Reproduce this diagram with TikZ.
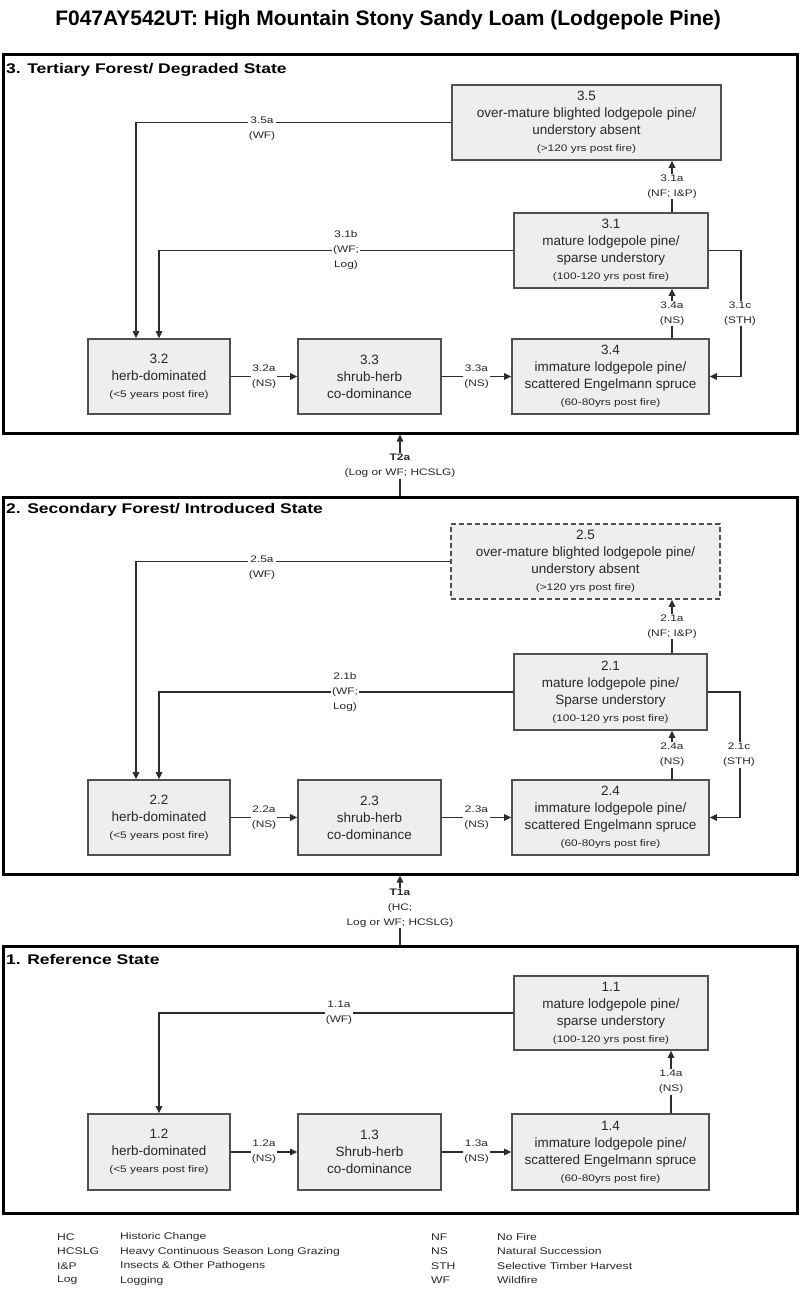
\documentclass[tikz,border=0pt]{standalone}
\usepackage{fontspec}
\setmainfont{Liberation Sans}
\newfontfamily\sfx[FakeStretch=1.25]{Liberation Sans}
\usetikzlibrary{arrows.meta,calc}
\definecolor{boxfill}{RGB}{238,238,238}
\definecolor{boxline}{RGB}{80,80,80}
\definecolor{txt}{RGB}{40,40,40}
\definecolor{conncol}{RGB}{45,45,45}
\tikzset{
 statebox/.style={draw=boxline, fill=boxfill, line width=1.6pt, align=center, text=txt, font=\fontsize{13.5}{17}\selectfont, inner sep=0pt},
 frame/.style={draw=black, line width=3pt, inner sep=0pt},
 conn/.style={draw=conncol, line width=1.4pt, -{Triangle[length=7pt,width=6.5pt]}},
 lbl/.style={fill=white, inner sep=1pt, align=center, text=txt, font=\sfx\fontsize{9.5}{15}\selectfont},
 framelabel/.style={anchor=west, inner sep=0pt, font=\sfx\bfseries\fontsize{14}{16}\selectfont},
 legend/.style={anchor=west, inner sep=0pt, font=\sfx\fontsize{9.7}{12}\selectfont, text=txt},
}
\newcommand\yrs[1]{{\sfx\fontsize{9.5}{11}\selectfont #1}}
\begin{document}
\begin{tikzpicture}[x=1pt,y=-1pt]
\fill[white] (0,0) rectangle (800,1290);
\useasboundingbox (0,0) rectangle (800,1290);

\node[font=\bfseries\fontsize{21}{24}\selectfont] (title) at (388,20) {F047AY542UT: High Mountain Stony Sandy Loam (Lodgepole Pine)};

% ---------- frames ----------
\node[frame, minimum width=794pt, minimum height=378pt] (st3) at (400,244) {};
\node[frame, minimum width=794pt, minimum height=377pt] (st2) at (400,685.5) {};
\node[frame, minimum width=794pt, minimum height=267pt] (st1) at (400,1079.5) {};
\node[framelabel] (st3l) at (6,70) {3. Tertiary Forest/ Degraded State};
\node[framelabel] (st2l) at (6,510) {2. Secondary Forest/ Introduced State};
\node[framelabel] (st1l) at (6,959) {1. Reference State};

% ---------- state 3 ----------
\node[statebox, minimum width=269pt, minimum height=75pt] (s35) at (586.5,122.5) {3.5\\over-mature blighted lodgepole pine/\\understory absent\\\yrs{(>120 yrs post fire)}};
\node[statebox, minimum width=194pt, minimum height=75pt] (s31) at (611,250.5) {3.1\\mature lodgepole pine/\\sparse understory\\\yrs{(100-120 yrs post fire)}};
\node[statebox, minimum width=142pt, minimum height=75pt] (s32) at (159,376.5) {3.2\\herb-dominated\\\yrs{(<5 years post fire)}};
\node[statebox, minimum width=143pt, minimum height=75pt] (s33) at (369.5,376.5) {3.3\\shrub-herb\\co-dominance};
\node[statebox, minimum width=197pt, minimum height=75pt] (s34) at (610.5,376.5) {3.4\\immature lodgepole pine/\\scattered Engelmann spruce\\\yrs{(60-80yrs post fire)}};

\draw[conn] (s35.west) -| ([xshift=-23pt]s32.north);
\draw[conn] (s31.west) -| (s32.north);
\draw[conn] ([xshift=61pt]s31.north) -- ([xshift=61pt]s31.north |- s35.south);
\draw[conn] ([xshift=61.5pt]s34.north) -- ([xshift=61.5pt]s34.north |- s31.south);
\draw[conn] (s31.east) -- ++(32,0) |- (s34.east);
\draw[conn] (s32.east) -- (s33.west);
\draw[conn] (s33.east) -- (s34.west);

\node[lbl] (l35a) at (262,129) {3.5a\\(WF)};
\node[lbl] (l31b) at (346,250.5) {3.1b\\(WF;\\Log)};
\node[lbl] (l31a) at (672,186.5) {3.1a\\(NF; I\&P)};
\node[lbl] (l34a) at (672,313.5) {3.4a\\(NS)};
\node[lbl] (l31c) at (740,313.5) {3.1c\\(STH)};
\node[lbl] (l32a) at (264,377) {3.2a\\(NS)};
\node[lbl] (l33a) at (476.5,377) {3.3a\\(NS)};

% ---------- T2a ----------
\draw[conn] (st2.north) -- (st3.south);
\node[lbl] (lt2a) at (400,466) {\textbf{T2a}\\(Log or WF; HCSLG)};

% ---------- state 2 ----------
\node[statebox, minimum width=269pt, minimum height=75pt, dashed, dash pattern=on 5pt off 3pt] (s25) at (585.5,561.5) {2.5\\over-mature blighted lodgepole pine/\\understory absent\\\yrs{(>120 yrs post fire)}};
\node[statebox, minimum width=193pt, minimum height=76pt] (s21) at (610.5,692) {2.1\\mature lodgepole pine/\\Sparse understory\\\yrs{(100-120 yrs post fire)}};
\node[statebox, minimum width=142pt, minimum height=75pt] (s22) at (159,817.5) {2.2\\herb-dominated\\\yrs{(<5 years post fire)}};
\node[statebox, minimum width=143pt, minimum height=75pt] (s23) at (369.5,817.5) {2.3\\shrub-herb\\co-dominance};
\node[statebox, minimum width=197pt, minimum height=75pt] (s24) at (610.5,817.5) {2.4\\immature lodgepole pine/\\scattered Engelmann spruce\\\yrs{(60-80yrs post fire)}};

\draw[conn] (s25.west) -| ([xshift=-23pt]s22.north);
\draw[conn] (s21.west) -| (s22.north);
\draw[conn] ([xshift=61.5pt]s21.north) -- ([xshift=61.5pt]s21.north |- s25.south);
\draw[conn] ([xshift=61.5pt]s24.north) -- ([xshift=61.5pt]s24.north |- s21.south);
\draw[conn] (s21.east) -- ++(32,0) |- (s24.east);
\draw[conn] (s22.east) -- (s23.west);
\draw[conn] (s23.east) -- (s24.west);

\node[lbl] (l25a) at (262,568) {2.5a\\(WF)};
\node[lbl] (l21b) at (345,692) {2.1b\\(WF;\\Log)};
\node[lbl] (l21a) at (672,626.5) {2.1a\\(NF; I\&P)};
\node[lbl] (l24a) at (672,755) {2.4a\\(NS)};
\node[lbl] (l21c) at (739,755) {2.1c\\(STH)};
\node[lbl] (l22a) at (264,818) {2.2a\\(NS)};
\node[lbl] (l23a) at (476.5,818) {2.3a\\(NS)};

% ---------- T1a ----------
\draw[conn] (st1.north) -- (st2.south);
\node[lbl] (lt1a) at (400,908) {\textbf{T1a}\\(HC;\\Log or WF; HCSLG)};

% ---------- state 1 ----------
\node[statebox, minimum width=194pt, minimum height=74pt] (s11) at (611,1013) {1.1\\mature lodgepole pine/\\sparse understory\\\yrs{(100-120 yrs post fire)}};
\node[statebox, minimum width=142pt, minimum height=76pt] (s12) at (159,1152) {1.2\\herb-dominated\\\yrs{(<5 years post fire)}};
\node[statebox, minimum width=143pt, minimum height=76pt] (s13) at (369.5,1152) {1.3\\Shrub-herb\\co-dominance};
\node[statebox, minimum width=197pt, minimum height=76pt] (s14) at (610.5,1152) {1.4\\immature lodgepole pine/\\scattered Engelmann spruce\\\yrs{(60-80yrs post fire)}};

\draw[conn] (s11.west) -| (s12.north);
\draw[conn] ([xshift=60.5pt]s14.north) -- ([xshift=60.5pt]s14.north |- s11.south);
\draw[conn] (s12.east) -- (s13.west);
\draw[conn] (s13.east) -- (s14.west);

\node[lbl] (l11a) at (339,1012.5) {1.1a\\(WF)};
\node[lbl] (l14a) at (671,1082) {1.4a\\(NS)};
\node[lbl] (l12a) at (264,1152) {1.2a\\(NS)};
\node[lbl] (l13a) at (476.5,1152) {1.3a\\(NS)};

% ---------- legend ----------
\node[legend] (k1) at (57,1237) {HC};
\node[legend] (k2) at (57,1251.5) {HCSLG};
\node[legend] (k3) at (57,1266) {I\&P};
\node[legend] (k4) at (57,1280.5) {Log};
\node[legend] (d1) at (120,1237) {Historic Change};
\node[legend] (d2) at (120,1251.5) {Heavy Continuous Season Long Grazing};
\node[legend] (d3) at (120,1266) {Insects \& Other Pathogens};
\node[legend] (d4) at (120,1280.5) {Logging};
\node[legend] (k5) at (431,1237) {NF};
\node[legend] (k6) at (431,1251.5) {NS};
\node[legend] (k7) at (431,1266) {STH};
\node[legend] (k8) at (431,1280.5) {WF};
\node[legend] (d5) at (497,1237) {No Fire};
\node[legend] (d6) at (497,1251.5) {Natural Succession};
\node[legend] (d7) at (497,1266) {Selective Timber Harvest};
\node[legend] (d8) at (497,1280.5) {Wildfire};
\end{tikzpicture}
\end{document}
